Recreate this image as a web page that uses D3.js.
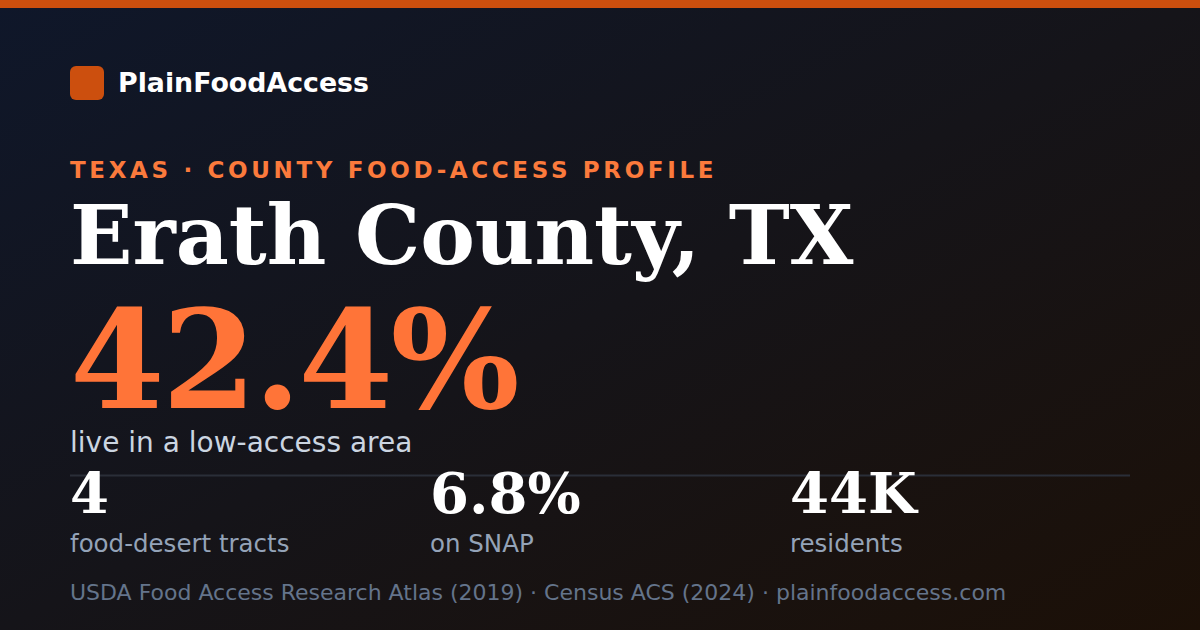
<!DOCTYPE html>
<html>
<head>
<meta charset="utf-8">
<script src="https://cdn.jsdelivr.net/npm/d3@7"></script>
<style>
  html, body { margin: 0; padding: 0; background: #111; }
  svg { display: block; }
</style>
</head>
<body>
<div id="card"></div>
<script>
(function(){
// Card content
const brand = "PlainFoodAccess";
const kicker = "TEXAS · COUNTY FOOD-ACCESS PROFILE";
const county = "Erath County, TX";
const headline = { value: "42.4%", label: "live in a low-access area" };
const statValues = ["4", "6.8%", "44K"];
const statLabels = ["food-desert tracts", "on SNAP", "residents"];
const sources = ["USDA Food Access Research Atlas (2019)", "Census ACS (2024)", "plainfoodaccess.com"];

const W = 1200, H = 630;
const left = 70, right = 1130;

const svg = d3.select("#card")
    .append("svg")
    .attr("width", W)
    .attr("height", H);

// Background gradient
const defs = svg.append("defs");
const grad = defs.append("linearGradient")
    .attr("id", "bg")
    .attr("x1", "0%").attr("y1", "0%")
    .attr("x2", "100%").attr("y2", "100%");
grad.append("stop").attr("offset", "0%").attr("stop-color", "#0f172a");
grad.append("stop").attr("offset", "50%").attr("stop-color", "#151419");
grad.append("stop").attr("offset", "100%").attr("stop-color", "#1c1007");

svg.append("rect")
    .attr("width", W).attr("height", H)
    .attr("fill", "url(#bg)");

// Top accent bar
svg.append("rect")
    .attr("width", W).attr("height", 8)
    .attr("fill", "#cc4f0e");

// Brand
svg.append("rect")
    .attr("x", left).attr("y", 66)
    .attr("width", 34).attr("height", 34)
    .attr("rx", 6)
    .attr("fill", "#cc4f0e");

svg.append("text")
    .attr("x", 118).attr("y", 92)
    .style("font-family", "'DejaVu Sans'")
    .style("font-weight", "bold")
    .style("font-size", "26.8px")
    .attr("fill", "#ffffff")
    .text(brand);

// Kicker
svg.append("text")
    .attr("x", left).attr("y", 178)
    .style("font-family", "'DejaVu Sans'")
    .style("font-weight", "bold")
    .style("font-size", "23px")
    .style("letter-spacing", "3.65px")
    .attr("fill", "#fb7a3c")
    .text(kicker);

// County title
svg.append("text")
    .attr("x", left).attr("y", 264)
    .style("font-family", "'DejaVu Serif'")
    .style("font-weight", "bold")
    .style("font-size", "82px")
    .attr("fill", "#ffffff")
    .text(county);

// Headline number
svg.append("text")
    .attr("x", left).attr("y", 408)
    .style("font-family", "'DejaVu Serif'")
    .style("font-weight", "bold")
    .style("font-size", "136px")
    .style("letter-spacing", "-2.7px")
    .attr("fill", "#ff7438")
    .text(headline.value);

svg.append("text")
    .attr("x", left).attr("y", 452)
    .style("font-family", "'DejaVu Sans'")
    .style("font-size", "28px")
    .attr("fill", "#cbd5e1")
    .text(headline.label);

// Divider
svg.append("line")
    .attr("x1", left).attr("x2", right)
    .attr("y1", 475.5).attr("y2", 475.5)
    .attr("stroke", "#2a2e38")
    .attr("stroke-width", 2);

// Stats row
const x = d3.scaleBand()
    .domain(d3.range(statValues.length))
    .range([left, left + 360 * statValues.length]);

const stats = svg.selectAll(".stat")
    .data(statValues)
    .enter()
    .append("g")
    .attr("class", "stat")
    .attr("transform", (d, i) => `translate(${x(i)},0)`);

stats.append("text")
    .attr("y", 513)
    .style("font-family", "'DejaVu Serif'")
    .style("font-weight", "bold")
    .style("font-size", "56px")
    .attr("fill", "#ffffff")
    .text(d => d);

stats.append("text")
    .attr("y", 552)
    .style("font-family", "'DejaVu Sans'")
    .style("font-size", "24.5px")
    .attr("fill", "#94a3b8")
    .text((d, i) => statLabels[i]);

// Footer sources
svg.append("text")
    .attr("x", left).attr("y", 600)
    .style("font-family", "'DejaVu Sans'")
    .style("font-size", "22px")
    .attr("fill", "#64748b")
    .text(sources.join(" · "));

})();
</script>
</body>
</html>
